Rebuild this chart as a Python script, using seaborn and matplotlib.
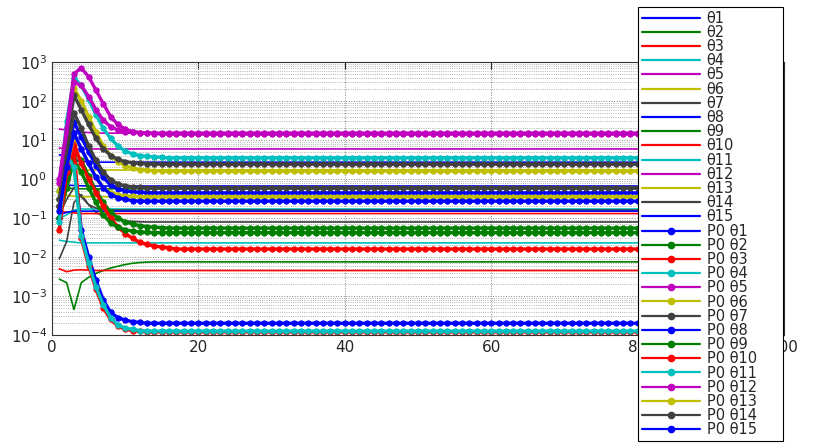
import numpy as np
import pandas as pd
import matplotlib
matplotlib.use("Agg")
import matplotlib.pyplot as plt
from matplotlib.lines import Line2D
import seaborn as sns

# time steps
steps = np.arange(1, 101)

# MATLAB-style colour cycle (b g r c m y k)
cycle = ["#0000ff", "#008000", "#ff0000", "#00bfbf", "#bf00bf", "#bfbf00", "#404040"]

# thin curves: (start of curve, value it settles at)
theta_head = [
    [4.2, 3.5, 3.0, 2.8, 2.75],
    [0.0027, 0.0022, 0.00045, 0.0022, 0.003, 0.0038, 0.0045, 0.0052, 0.0058, 0.0064, 0.0069, 0.0072, 0.0074],
    [0.005, 0.0042, 0.0046, 0.0047, 0.0046],
    [0.027, 0.025, 0.024, 0.023],
    [6.2, 6.0],
    [1.9, 1.85, 1.8, 1.75],
    [0.009, 0.025, 0.25, 0.4, 0.22, 0.14, 0.11, 0.095, 0.088, 0.084, 0.082, 0.08],
    [0.75, 0.7, 0.68, 0.67],
    [0.6, 0.58, 0.57],
    [0.15, 0.14, 0.135],
    [0.1, 0.12, 0.16, 0.17],
    [19, 18, 17, 16, 15.5, 15.2],
    [0.4, 0.38, 0.36],
    [0.12, 0.3, 0.6, 0.35, 0.22, 0.18, 0.165],
    [0.12, 0.14, 0.15],
]
theta_tail = [2.7, 0.0075, 0.0045, 0.023, 5.9, 1.7, 0.079, 0.66, 0.56, 0.13, 0.17, 15, 0.35, 0.16, 0.15]

# thick P0 curves with markers
p0_head = [
    [0.1, 8, 3, 0.05, 0.01, 0.0025, 0.0008, 0.00038, 0.00028, 0.00024, 0.00022, 0.00021],
    [0.3, 1.5, 5, 3, 1.2, 0.5, 0.25, 0.14, 0.1, 0.08, 0.07, 0.064, 0.06, 0.058, 0.057],
    [0.2, 1, 8, 2.5, 1, 0.45, 0.2, 0.1, 0.06, 0.04, 0.03, 0.024, 0.021, 0.019, 0.018, 0.017],
    [0.5, 30, 400, 250, 110, 45, 20, 11, 7, 5.2, 4.4, 4, 3.8, 3.7, 3.6],
    [1, 20, 500, 700, 420, 190, 85, 40, 25, 19, 16.5, 15.5, 15, 14.6, 14.4],
    [0.5, 10, 215, 100, 40, 16, 7, 4, 2.8, 2.2, 1.9, 1.75, 1.68, 1.64],
    [0.3, 8, 140, 60, 25, 11, 6, 4, 3.2, 2.8, 2.6, 2.5, 2.45],
    [0.2, 3, 29, 12, 5, 2.2, 1.1, 0.7, 0.56, 0.5, 0.47, 0.46, 0.45],
    [0.1, 0.6, 3, 1.5, 0.6, 0.25, 0.12, 0.075, 0.058, 0.05, 0.046, 0.044, 0.043],
    [0.05, 1.5, 6, 0.03, 0.006, 0.0015, 0.0005, 0.00025, 0.00017, 0.00014, 0.00013, 0.000125],
    [0.08, 4, 2, 0.035, 0.007, 0.0017, 0.0006, 0.00028, 0.00018, 0.00015, 0.00014, 0.00013],
    [0.8, 15, 300, 250, 130, 60, 32, 22, 18, 16.5, 15.8, 15.4, 15.2],
    [0.2, 2, 12, 6, 2.5, 1.1, 0.6, 0.45, 0.4, 0.37, 0.36],
    [0.2, 4, 50, 20, 7, 3, 1.5, 0.95, 0.75, 0.67, 0.63, 0.61, 0.6],
    [0.15, 2, 15, 6, 2.5, 1.1, 0.6, 0.4, 0.33, 0.3, 0.28],
]
p0_tail = [0.0002, 0.055, 0.016, 3.5, 14.2, 1.6, 2.4, 0.44, 0.042, 0.00012, 0.000126, 15, 0.35, 0.59, 0.27]

theta_labels = ["θ%d" % (i + 1) for i in range(15)]
p0_labels = ["P0 θ%d" % (i + 1) for i in range(15)]


def full(head, tail):
    return head + [tail] * (len(steps) - len(head))


rows = []
for lab, h, t in zip(theta_labels, theta_head, theta_tail):
    rows.append(pd.DataFrame({"step": steps, "value": full(h, t), "series": lab}))
for lab, h, t in zip(p0_labels, p0_head, p0_tail):
    rows.append(pd.DataFrame({"step": steps, "value": full(h, t), "series": lab}))
df = pd.concat(rows, ignore_index=True)

sns.set_style("white")
plt.rcParams["font.family"] = ["DejaVu Sans"]
plt.rcParams["mathtext.fontset"] = "dejavusans"

fig = plt.figure(figsize=(8.3, 4.43), dpi=100)
ax = fig.add_axes([52 / 830, 1 - 335 / 443, (784 - 52) / 830, (335 - 62) / 443])

handles = []
for i, lab in enumerate(theta_labels):
    c = cycle[i % 7]
    sns.lineplot(data=df[df.series == lab], x="step", y="value", ax=ax,
                 color=c, linewidth=1.2, legend=False)
    handles.append(Line2D([], [], color=c, lw=1.6))
for i, lab in enumerate(p0_labels):
    c = cycle[i % 7]
    sns.lineplot(data=df[df.series == lab], x="step", y="value", ax=ax,
                 color=c, linewidth=2.4, marker="o", markersize=3.8,
                 markeredgecolor=c, legend=False)
    handles.append(Line2D([], [], color=c, lw=1.6, marker="o", markersize=4.5))

ax.set_yscale("log")
ax.set_ylim(1e-4, 1e3)
ax.set_xlim(0, 100)
ax.set_xticks([0, 20, 40, 60, 80, 100])
ax.set_xlabel("")
ax.set_ylabel("")
ax.grid(True, which="major", axis="both", linestyle=":", color="#888888", linewidth=0.7)
ax.grid(True, which="minor", axis="y", linestyle=":", color="#999999", linewidth=0.6)
ax.tick_params(which="both", direction="in", top=True, right=True, labelsize=11)
ax.tick_params(which="major", length=5)
ax.tick_params(which="minor", length=3)
for s in ax.spines.values():
    s.set_color("#333333")
    s.set_linewidth(0.8)

leg = fig.legend(handles, theta_labels + p0_labels, loc="upper left",
                 bbox_to_anchor=(638 / 830, 1 - 437 / 443, 145 / 830, 430 / 443),
                 mode="expand", borderaxespad=0, fontsize=10.5, labelspacing=-0.055,
                 handlelength=4.0, handletextpad=0.45, borderpad=0.25,
                 fancybox=False, framealpha=1, edgecolor="black")
leg.get_frame().set_linewidth(0.8)

fig.savefig("out.png", dpi=100)
